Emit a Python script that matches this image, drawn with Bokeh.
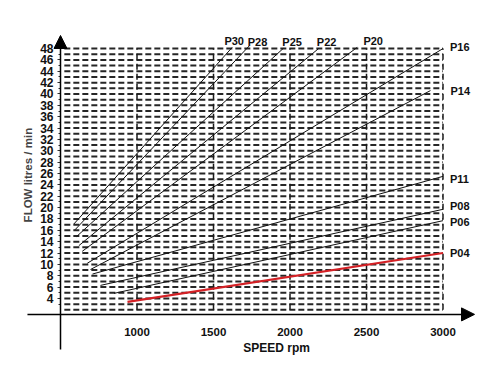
import math
from bokeh.plotting import figure
from bokeh.models import Range1d, FixedTicker, Arrow, NormalHead, Label, ColumnDataSource
from bokeh.embed import file_html
from bokeh.resources import INLINE

# ---- data ----
pumps = ["P30", "P28", "P25", "P22", "P20", "P16", "P14", "P11", "P08", "P06", "P04"]
rpm_start = [587, 595, 605, 620, 642, 675, 696, 709, 761, 850, 938]
flow_start = [17.1, 16.1, 14.9, 13.3, 12.3, 10.2, 9.1, 8.3, 6.3, 4.9, 3.4]
rpm_end = [1622, 1735, 1955, 2187, 2439, 3000, 2918, 3000, 3000, 3000, 3000]
flow_end = [48.2, 48.5, 48.0, 48.0, 48.2, 48.0, 40.6, 25.5, 19.7, 17.7, 12.0]

speed_ticks = [1000, 1500, 2000, 2500, 3000]
flow_ticks = [4, 6, 8, 10, 12, 14, 16, 18, 20, 22, 24, 26, 28, 30, 32, 34, 36, 38, 40, 42, 44, 46, 48]
flow_minor = [3, 5, 7, 9, 11, 13, 15, 17, 19, 21, 23, 25, 27, 29, 31, 33, 35, 37, 39, 41, 43, 45, 47]
grid_rows = [2, 3, 4, 5, 6, 7, 8, 9, 10, 11, 12, 13, 14, 15, 16, 17, 18, 19, 20, 21, 22, 23, 24, 25,
             26, 27, 28, 29, 30, 31, 32, 33, 34, 35, 36, 37, 38, 39, 40, 41, 42, 43, 44, 45, 46, 47, 48]

# ---- styles ----
line_colors = ["#111111"] * 10 + ["#d42025"]
line_widths = [1] * 10 + [2.2]
top_count = 5
label_dx = [2, 8, 9, 8, 16, 7, 20, 7, 7, 7, 7]
label_dy = [-6, -4, -7, -7, -6, -2, 0, 3, -3.5, 1, 0]
FONT = "Liberation Sans"

p = figure(width=500, height=375, output_backend="svg", toolbar_location=None,
           x_range=Range1d(107.8, 3375.8), y_range=Range1d(-9.56, 56.46),
           min_border=0, outline_line_color=None)
p.grid.visible = False

# dashed grid rows
p.segment(x0=[525] * len(grid_rows), y0=grid_rows, x1=[3000] * len(grid_rows), y1=grid_rows,
          line_color="#262626", line_width=2, line_dash="6 3")
# dashed verticals
p.segment(x0=speed_ticks, y0=[2] * len(speed_ticks), x1=speed_ticks, y1=[48] * len(speed_ticks),
          line_color="#1a1a1a", line_width=1.5, line_dash="6 4")

# pump lines
src = ColumnDataSource(dict(xs=[[a, b] for a, b in zip(rpm_start, rpm_end)],
                            ys=[[a, b] for a, b in zip(flow_start, flow_end)],
                            color=line_colors, width=line_widths))
p.multi_line(xs="xs", ys="ys", line_color="color", line_width="width", source=src)

# labels
top = ColumnDataSource(dict(x=rpm_end[:top_count], y=flow_end[:top_count], t=pumps[:top_count],
                            dx=label_dx[:top_count], dy=label_dy[:top_count]))
p.text(x="x", y="y", text="t", x_offset="dx", y_offset="dy", source=top,
       text_align="center", text_baseline="middle", text_font_size="11px",
       text_font_style="bold", text_color="#111111", text_font={"value": FONT})
right = ColumnDataSource(dict(x=rpm_end[top_count:], y=flow_end[top_count:], t=pumps[top_count:],
                              dx=label_dx[top_count:], dy=label_dy[top_count:]))
p.text(x="x", y="y", text="t", x_offset="dx", y_offset="dy", source=right,
       text_align="left", text_baseline="middle", text_font_size="11px",
       text_font_style="bold", text_color="#111111", text_font={"value": FONT})

# axes
xa = p.xaxis[0]
xa.fixed_location = 1.2
xa.ticker = FixedTicker(ticks=speed_ticks)
xa.axis_line_color = None
xa.major_tick_line_color = None
xa.minor_tick_line_color = None
xa.major_label_standoff = 8
xa.major_label_text_font = FONT
xa.major_label_text_font_style = "bold"
xa.major_label_text_font_size = "11.5px"
xa.major_label_text_color = "#111111"

ya = p.yaxis[0]
ya.fixed_location = 500
ya.ticker = FixedTicker(ticks=flow_ticks, minor_ticks=flow_minor)
ya.axis_line_color = None
ya.major_tick_out = 3
ya.major_tick_in = 0
ya.minor_tick_out = 2
ya.minor_tick_in = 0
ya.major_tick_line_color = "#333333"
ya.minor_tick_line_color = "#333333"
ya.major_label_standoff = 4
ya.major_label_text_font = FONT
ya.major_label_text_font_style = "bold"
ya.major_label_text_font_size = "12px"
ya.major_label_text_color = "#111111"

p.add_layout(Arrow(end=NormalHead(size=13, fill_color="black", line_color="black"),
                   x_start=284, y_start=1.2, x_end=3206, y_end=1.2,
                   line_color="black", line_width=1.5))
p.add_layout(Arrow(end=NormalHead(size=13, fill_color="black", line_color="black"),
                   x_start=500, y_start=-5.0, x_end=500, y_end=50.3,
                   line_color="black", line_width=1.5))

p.add_layout(Label(x=1912, y=-4.72, text="SPEED rpm", text_align="center", text_baseline="middle",
                   text_font=FONT, text_font_style="bold", text_font_size="12px", text_color="#111111"))
p.add_layout(Label(x=284.3, y=26.0, text="FLOW  litres / min", angle=math.pi / 2,
                   text_align="center", text_baseline="middle",
                   text_font=FONT, text_font_style="bold", text_font_size="11.5px", text_color="#444444"))

open("out.html", "w").write(file_html(p, INLINE))
